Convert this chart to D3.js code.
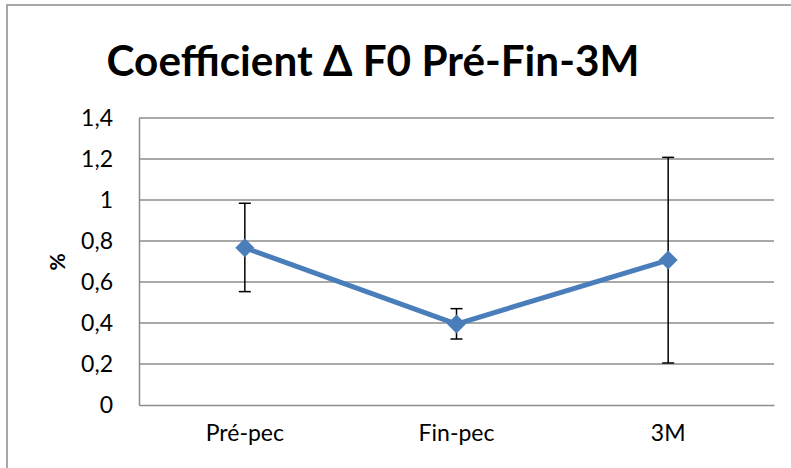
<!DOCTYPE html>
<html><head><meta charset="utf-8">
<script src="https://cdn.jsdelivr.net/npm/d3@7"></script>
<style>
html,body{margin:0;padding:0;background:#fff;overflow:hidden;}
text{font-family:Lato,"Open Sans",sans-serif;}
</style></head>
<body><svg id="chart" width="791" height="468"></svg>
<script>
const categories = ["Pré-pec", "Fin-pec", "3M"];
const values = [0.767, 0.395, 0.707];
const errLow = [0.553, 0.322, 0.205];
const errHigh = [0.984, 0.47, 1.208];
const yTicks = [0, 0.2, 0.4, 0.6, 0.8, 1, 1.2, 1.4];
const titleText = "Coefficient Δ F0 Pré-Fin-3M";
const yLabel = "%";

const svg = d3.select("#chart");
const m = {left: 139, right: 774, top: 118, bottom: 405};

// outer chart border
svg.append("rect").attr("x", 7).attr("y", 5).attr("width", 800).attr("height", 500)
  .attr("fill", "none").attr("stroke", "#8c8c8c").attr("stroke-width", 1.5);

const x = d3.scaleBand().domain(categories).range([m.left, m.right]);
const y = d3.scaleLinear().domain([0, 1.4]).range([m.bottom, m.top]);
const fmt = d => String(d).replace(".", ",");

// gridlines
svg.append("g").selectAll("line").data(yTicks.filter(d => d > 0)).join("line")
  .attr("x1", m.left).attr("x2", m.right)
  .attr("y1", d => y(d)).attr("y2", d => y(d))
  .attr("stroke", "#8c8c8c").attr("stroke-width", 1.5);

// y axis
const yAxis = svg.append("g").attr("transform", `translate(${m.left},0)`)
  .call(d3.axisLeft(y).tickValues(yTicks).tickFormat(fmt).tickSize(0).tickPadding(26));
yAxis.select(".domain").attr("stroke", "#8c8c8c").attr("stroke-width", 1.5);
yAxis.selectAll("text").attr("font-size", 23).attr("fill", "#000").attr("font-family", "Lato");

// x axis
const xAxis = svg.append("g").attr("transform", `translate(0,${m.bottom})`)
  .call(d3.axisBottom(x).tickSize(0).tickPadding(20));
xAxis.select(".domain").attr("stroke", "#8c8c8c").attr("stroke-width", 1.5);
xAxis.selectAll("text").attr("font-size", 23).attr("fill", "#000").attr("font-family", "Lato");

const cx = d => x(d) + x.bandwidth() / 2;

// error bars
const eb = svg.append("g").attr("stroke", "#000").attr("stroke-width", 1.5);
categories.forEach((c, i) => {
  eb.append("line").attr("x1", cx(c)).attr("x2", cx(c)).attr("y1", y(errLow[i])).attr("y2", y(errHigh[i]));
  eb.append("line").attr("x1", cx(c) - 6).attr("x2", cx(c) + 6).attr("y1", y(errLow[i])).attr("y2", y(errLow[i]));
  eb.append("line").attr("x1", cx(c) - 6).attr("x2", cx(c) + 6).attr("y1", y(errHigh[i])).attr("y2", y(errHigh[i]));
});

// line
const pts = categories.map((c, i) => [cx(c), y(values[i])]);
svg.append("path").attr("d", d3.line()(pts)).attr("fill", "none")
  .attr("stroke", "#4A7EBB").attr("stroke-width", 5).attr("stroke-linejoin", "round");

// markers
svg.append("g").selectAll("path").data(pts).join("path")
  .attr("transform", d => `translate(${d[0]},${d[1]})`)
  .attr("d", d3.symbol(d3.symbolDiamond2, 230)())
  .attr("fill", "#4A7EBB");

// title
const t = svg.append("text").attr("x", 373).attr("y", 76).attr("text-anchor", "middle")
  .attr("font-weight", "bold").attr("font-size", 44).attr("fill", "#000").text(titleText);
const w = t.node().getComputedTextLength();
t.attr("font-size", 44 * 533 / w);

// y label
svg.append("text").attr("transform", "translate(65,262) rotate(-90)")
  .attr("text-anchor", "middle").attr("font-weight", "bold").attr("font-size", 21)
  .attr("fill", "#000").text(yLabel);
</script></body></html>
